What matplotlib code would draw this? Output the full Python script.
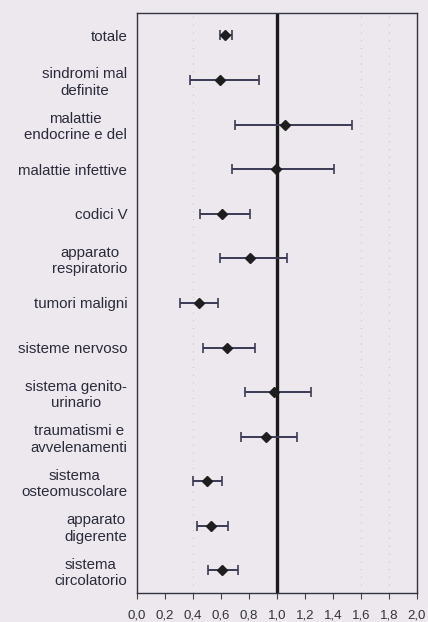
import matplotlib.pyplot as plt

plt.rcParams['font.family'] = ['Liberation Sans', 'DejaVu Sans']

# categorie (dall'alto in basso)
categorie = [
    "totale",
    "sindromi mal\ndefinite",
    "malattie\nendocrine e del",
    "malattie infettive",
    "codici V",
    "apparato\nrespiratorio",
    "tumori maligni",
    "sisteme nervoso",
    "sistema genito-\nurinario",
    "traumatismi e\navvelenamenti",
    "sistema\nosteomuscolare",
    "apparato\ndigerente",
    "sistema\ncircolatorio",
]
stima = [0.63, 0.59, 1.06, 0.99, 0.61, 0.81, 0.44, 0.64, 0.98, 0.92, 0.50, 0.53, 0.61]
ci_basso = [0.59, 0.38, 0.70, 0.68, 0.45, 0.59, 0.31, 0.47, 0.77, 0.74, 0.40, 0.43, 0.51]
ci_alto = [0.68, 0.87, 1.54, 1.41, 0.81, 1.07, 0.58, 0.84, 1.24, 1.14, 0.61, 0.65, 0.72]
xticks = [0.0, 0.2, 0.4, 0.6, 0.8, 1.0, 1.2, 1.4, 1.6, 1.8, 2.0]

bg = '#ece8ee'
fig = plt.figure(figsize=(4.28, 6.22), dpi=100, facecolor=bg)
ax = fig.add_axes([0.320, 0.047, 0.654, 0.932], facecolor=bg)

pos = list(range(len(categorie)))
err = [[s - b for s, b in zip(stima, ci_basso)], [a - s for s, a in zip(stima, ci_alto)]]

# griglia appena visibile (residuo della stampa)
for g in (0.4, 1.6, 1.8):
    ax.axvline(g, color='#c8c4cc', lw=0.8, ls=(0, (1, 6)), zorder=0)

ax.axvline(1.0, color='#1a1a1a', lw=2.4, zorder=2)
ax.errorbar(stima, pos, xerr=err, fmt='D', color='#1e1e1e', ms=5,
            ecolor='#3b3a55', elinewidth=1.4, capsize=3.5, capthick=1.2, zorder=3)

ax.set_xlim(0, 2.0)
ax.set_ylim(len(categorie) - 0.5, -0.5)
ax.set_xticks(xticks)
ax.set_xticklabels([f"{v:.1f}".replace('.', ',') for v in xticks], fontsize=9.5, color='#333333')
ax.set_yticks(pos)
ax.set_yticklabels(categorie, fontsize=10.8, color='#2a2a3a', linespacing=1.22,
                   multialignment='center')
ax.tick_params(axis='y', length=0, pad=7)
ax.tick_params(axis='x', length=4, width=0.8, color='#444444', pad=8)

for s in ax.spines.values():
    s.set_color('#333344')
    s.set_linewidth(1.0)

fig.savefig('out.png', dpi=100, facecolor=bg)
